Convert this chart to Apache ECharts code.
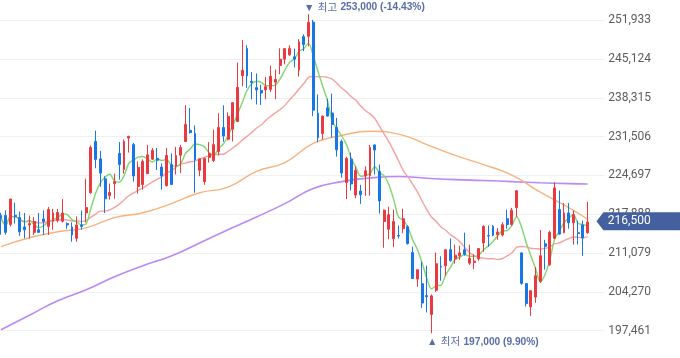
<!DOCTYPE html>
<html><head><meta charset="utf-8">
<script src="https://cdn.jsdelivr.net/npm/echarts@6/dist/echarts.min.js"></script>
<style>html,body{margin:0;padding:0;background:#fff}#c{width:680px;height:358px}</style>
</head><body><div id="c"></div>
<script>
// Daily candles (index 0..124): open, close, low, high
const opens = [217650,217650,216100,217700,217300,215650,216000,214700,215150,217050,215750,216650,216800,216650,216250,215650,213650,216000,218100,221650,230650,227600,224100,221150,223250,228550,225750,231250,230100,222750,223100,225000,227550,227700,226150,222900,226600,226350,228250,230650,232600,232050,225600,223600,227850,227300,228900,233100,231050,232800,234150,242200,246950,241200,240100,239600,239700,239800,241050,244000,245100,245850,245500,243200,249050,249100,251600,235600,232050,236550,235650,233100,230650,223450,227550,221250,221950,224600,224650,230050,225400,216600,215250,213600,214150,215350,215700,211150,206500,205700,203600,200300,204550,208750,208850,211650,210050,210600,211650,209300,209400,210050,212850,214150,215750,214300,214250,217100,216100,219050,211100,205700,201650,203350,206100,212700,209000,213650,218700,214650,218100,216400,214650,216000,214650];
const closes = [217150,214700,220550,217450,214800,215150,216250,216600,214700,216600,218700,218100,218200,218100,216000,214250,216000,215750,219050,229600,227500,225100,220600,221700,223600,226600,230650,231550,224600,226100,227150,228300,229100,227350,224600,228200,223100,228200,229600,233650,232200,227400,227600,227650,228550,230100,233100,231600,235050,237450,240150,243150,242150,241000,239700,239150,240250,242100,241550,245100,246950,246950,245100,248100,247650,251550,236150,231300,235100,235100,233650,229200,225100,227650,223200,225550,221300,225500,229600,229150,220200,218600,217800,216600,214050,217100,212700,206600,208150,202300,203400,203550,209200,208600,211650,209750,210700,211100,210850,210150,209650,211850,215750,214050,214200,214750,216050,216050,218600,222000,205750,202200,204450,207100,210600,212250,214700,222500,214400,218100,216400,217800,214500,213700,216500];
const lows = [214300,214300,215750,216250,214100,213650,213650,214250,214600,214250,214250,215150,216450,216450,215300,213050,213050,215150,216450,221500,225950,222700,218100,220450,220600,223950,225000,228700,223600,221500,222200,224950,227400,225650,222200,222750,223000,224850,225100,230550,232050,221650,224550,223050,226950,227050,228200,230600,230850,230650,234100,240350,240050,238050,237150,237050,238050,239350,238050,242450,244200,245650,243650,242050,246500,247350,235100,230550,231000,235050,231350,228000,224300,220550,222050,220700,219700,221100,221150,224850,218000,212000,213500,212100,213600,214550,212600,206500,205150,201450,200650,197000,204250,206200,207100,209550,209200,209900,210600,209000,208250,209700,211300,212200,214000,213400,214000,215350,215900,217450,205500,201700,200050,202350,205850,208150,208850,213550,214250,214550,215350,212550,212550,210600,214450];
const highs = [218100,218550,220550,219900,218350,218100,217650,217400,218100,218550,219150,218800,218800,220550,216450,216450,217500,218550,224100,229950,232550,229000,224550,223250,225000,230550,231000,231650,230400,227150,227500,230050,229500,229500,226800,229500,228550,229700,230050,237000,236500,233450,227600,227850,230550,232750,235600,237000,235750,237550,244500,248450,247550,242800,242600,240600,242000,243950,243250,247000,246950,247550,246950,248600,249450,253000,252000,238900,235200,238150,239050,234800,231000,228000,228700,226250,223050,226300,230050,230100,226600,218700,219200,218700,215900,218850,215950,212200,208150,209550,208850,203800,211150,210500,211700,213650,212550,212350,214650,212550,210850,211900,215950,215900,216000,215450,216500,218700,219000,222100,211200,205800,204600,208600,215100,213400,215000,223500,222050,219850,219850,218550,216750,216750,220050];
// 60-day and 120-day moving averages read at sample candle indices
const ma60Idx  = [0,6,12,18,24,30,36,42,48,54,60,66,72,78,84,90,96,102,108,114,120,124];
const ma60Vals = [212200,213750,214800,215500,217300,218150,219750,221650,222650,225400,226950,230300,231700,232450,231950,230100,228200,226600,224750,221750,219050,217000];
const ma120Idx  = [0,6,12,18,24,30,36,42,48,54,60,66,72,78,84,90,96,102,108,114,120,124];
const ma120Vals = [197600,200150,202700,204620,206900,208850,210550,212850,215150,217400,219750,222400,223600,224250,224500,224200,223950,223800,223600,223400,223250,223200];
// Y axis ticks
const yTickStep = 6809;
const yMin = 190652, yMax = 258585;
const slotCount = 128;

const fmt = v => Math.round(v).toLocaleString('en-US');
function movingAvg(n){
  return closes.map((c,i)=>{
    const s = Math.max(0,i-n+1); let t=0;
    for(let k=s;k<=i;k++) t+=closes[k];
    return +(t/(i-s+1)).toFixed(1);
  });
}
const candleData = opens.map((o,i)=>[o, closes[i], lows[i], highs[i]]);
const cats = Array.from({length: slotCount}, (_,i)=>String(i));
const maxHigh = Math.max(...highs), maxIdx = highs.indexOf(maxHigh);
const minLow = Math.min(...lows), minIdx = lows.indexOf(minLow);
const last = closes[closes.length-1], lastIdx = closes.length-1;
const pctHi = ((last-maxHigh)/maxHigh*100).toFixed(2);
const pctLo = ((last-minLow)/minLow*100).toFixed(2);

const RED='#eb3a3f', BLUE='#1877e6', LBL='#5a6da8';
const font = "'Liberation Sans','Noto Sans CJK KR',sans-serif";

const chart = echarts.init(document.getElementById('c'), null, {renderer:'canvas'});
chart.setOption({
  animation:false,
  backgroundColor:'#fff',
  grid:{left:-1.37, right:75.8, top:-17.7, bottom:-11.4, containLabel:false, outerBoundsMode:'none'},
  xAxis:{type:'category', data:cats, boundaryGap:true, axisLine:{show:false}, axisTick:{show:false}, axisLabel:{show:false}, splitLine:{show:false}},
  yAxis:{type:'value', position:'right', min:yMin, max:yMax, interval:yTickStep,
    axisLine:{show:false}, axisTick:{show:false},
    axisLabel:{margin:4, color:'#5c5c5c', fontSize:12, fontFamily:"Roboto,'Liberation Sans',sans-serif", formatter:v=>fmt(v)},
    splitLine:{lineStyle:{color:'#eef0f3', width:1}}},
  series:[
    {type:'line', name:'MA120', data:ma120Idx.map((x,k)=>[x, ma120Vals[k]]), showSymbol:false, smooth:true, z:1,
      lineStyle:{color:'#b98af7', width:1.6}},
    {type:'line', name:'MA60', data:ma60Idx.map((x,k)=>[x, ma60Vals[k]]), showSymbol:false, smooth:true, z:1,
      lineStyle:{color:'#f9b27c', width:1.4}},
    {type:'line', name:'MA20', data:movingAvg(20), showSymbol:false, smooth:0.3, z:1,
      lineStyle:{color:'#f7a0a0', width:1.4}},
    {type:'line', name:'MA5', data:movingAvg(5), showSymbol:false, smooth:0.3, z:1,
      lineStyle:{color:'#7fd66f', width:1.4}},
    {type:'candlestick', name:'price', data:candleData, barWidth:2.4, z:3, clip:false,
      itemStyle:{color:RED, color0:BLUE, borderColor:RED, borderColor0:BLUE, borderWidth:1},
      markPoint:{
        symbol:'circle', symbolSize:1, itemStyle:{color:'rgba(0,0,0,0)'}, z:10,
        data:[
          {coord:[maxIdx, maxHigh], label:{show:true, position:[-4,-6], align:'left', verticalAlign:'middle',
            formatter:'{t|▼} {b|최고} {n|'+fmt(maxHigh)+' ('+pctHi+'%)}',
            rich:{t:{fontSize:10.5,color:LBL}, b:{fontSize:10.5,color:LBL,fontFamily:font}, n:{fontSize:10.2,fontWeight:'bold',color:LBL,fontFamily:font}}}},
          {coord:[minIdx, minLow], label:{show:true, position:[-4,9], align:'left', verticalAlign:'middle',
            formatter:'{t|▲} {b|최저} {n|'+fmt(minLow)+' ('+pctLo+'%)}',
            rich:{t:{fontSize:10.5,color:LBL}, b:{fontSize:10.5,color:LBL,fontFamily:font}, n:{fontSize:10.2,fontWeight:'bold',color:LBL,fontFamily:font}}}},
          {coord:[lastIdx, last], symbol:'path://M0,9 L7,0 L84,0 L84,18 L7,18 Z', symbolSize:[83.5,18], symbolKeepAspect:false,
            symbolOffset:[50.6,-0.8], itemStyle:{color:'#45609f'},
            label:{show:true, position:'inside', offset:[-9,0], color:'#fff', fontSize:12, fontFamily:"Roboto,'Liberation Sans',sans-serif", formatter:fmt(last)}}
        ]
      }
    }
  ]
});
</script>
</body></html>
